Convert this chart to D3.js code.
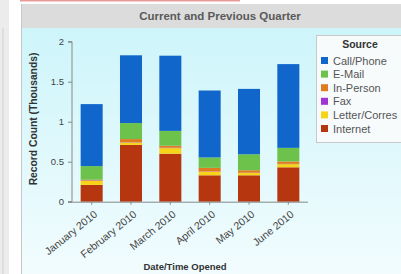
<!DOCTYPE html>
<html>
<head>
<meta charset="utf-8">
<script src="https://cdn.jsdelivr.net/npm/d3@7"></script>
<style>
  body { margin: 0; background: #fff; }
  svg { display: block; font-family: "Liberation Sans", Arial, sans-serif; }
</style>
</head>
<body>
<script>
// Data (thousands of records)
let months = ["January 2010", "February 2010", "March 2010", "April 2010", "May 2010", "June 2010"];
let sources = ["Internet", "Letter/Corres", "Fax", "In-Person", "E-Mail", "Call/Phone"];
let internet = [0.21, 0.71, 0.6, 0.33, 0.33, 0.43];
let letter = [0.05, 0.03, 0.07, 0.045, 0.03, 0.04];
let fax = [0.005, 0.003, 0.005, 0.003, 0.003, 0.003];
let inPerson = [0.01, 0.04, 0.025, 0.045, 0.03, 0.03];
let email = [0.17, 0.2, 0.185, 0.13, 0.2, 0.17];
let callPhone = [0.775, 0.847, 0.94, 0.837, 0.817, 1.047];
let yTicks = [0, 0.5, 1, 1.5, 2];

let colors = {
  "Call/Phone": "#1166cc",
  "E-Mail": "#6cc24a",
  "In-Person": "#e07b1f",
  "Fax": "#a035d6",
  "Letter/Corres": "#f7d417",
  "Internet": "#b5360f"
};

let rows = months.map((m, i) => ({
  month: m,
  "Internet": internet[i],
  "Letter/Corres": letter[i],
  "Fax": fax[i],
  "In-Person": inPerson[i],
  "E-Mail": email[i],
  "Call/Phone": callPhone[i]
}));

let W = 401, H = 274;
let svg = d3.select("body").append("svg").attr("width", W).attr("height", H);

let defs = svg.append("defs");
let grad = defs.append("linearGradient").attr("id", "bg").attr("x1", 0).attr("y1", 0).attr("x2", 0).attr("y2", 1);
grad.append("stop").attr("offset", "0%").attr("stop-color", "#cdf5fa");
grad.append("stop").attr("offset", "100%").attr("stop-color", "#f2fcfe");

// neighbouring pane on the left
svg.append("rect").attr("x", 0).attr("y", 0).attr("width", 9).attr("height", H).style("fill", "#ececec");
svg.append("line").attr("x1", 3).attr("x2", 3).attr("y1", 28).attr("y2", H).style("stroke", "#d0d0d0");

// top red strip
svg.append("line").attr("x1", 20).attr("x2", 240).attr("y1", 0.5).attr("y2", 0.5)
  .style("stroke", "#e79a9a").style("stroke-width", 2);

// panel
svg.append("rect").attr("x", 21).attr("y", 28).attr("width", W - 21).attr("height", H - 28).style("fill", "url(#bg)");
svg.append("rect").attr("x", 21).attr("y", 4).attr("width", W - 21).attr("height", 24).style("fill", "#dcdcdc");
svg.append("line").attr("x1", 21.5).attr("x2", 21.5).attr("y1", 4).attr("y2", H).style("stroke", "#c8c8c8");

svg.append("text")
  .attr("x", 220).attr("y", 20)
  .attr("text-anchor", "middle")
  .style("font-size", "11.5px").style("font-weight", "bold").style("fill", "#5a5a5a")
  .text("Current and Previous Quarter");

// scales
let x = d3.scaleBand().domain(months).range([72, 308]).paddingInner(0.44).paddingOuter(0.22);
let y = d3.scaleLinear().domain([0, 2]).range([201.7, 41.7]);

let stacked = d3.stack().keys(sources)(rows);

svg.append("g")
  .selectAll("g")
  .data(stacked)
  .join("g")
  .style("fill", d => colors[d.key])
  .selectAll("rect")
  .data(d => d)
  .join("rect")
  .attr("x", d => x(d.data.month))
  .attr("width", x.bandwidth())
  .attr("y", d => y(d[1]))
  .attr("height", d => y(d[0]) - y(d[1]));

// axes
let yAxis = svg.append("g")
  .attr("transform", "translate(72,0)")
  .call(d3.axisLeft(y).tickValues(yTicks).tickSize(4).tickPadding(4).tickFormat(d3.format("~g")));
yAxis.select(".domain").attr("d", "M-4," + y(2) + "H0V" + y(0) + "H-4");
yAxis.selectAll("path, line").style("stroke", "#888");
yAxis.selectAll("text").style("font-size", "9.5px").style("fill", "#444").style("font-family", "Liberation Sans, Arial, sans-serif");

let xAxis = svg.append("g")
  .attr("transform", "translate(0," + y(0) + ")")
  .call(d3.axisBottom(x).tickSize(3).tickSizeOuter(0));
xAxis.select(".domain").attr("d", "M68,0.5H308");
xAxis.selectAll("path, line").style("stroke", "#888");
xAxis.selectAll("text")
  .style("font-size", "10.5px").style("fill", "#444")
  .style("font-family", "Liberation Sans, Arial, sans-serif")
  .attr("text-anchor", "end")
  .attr("y", 0)
  .attr("dy", "0.35em")
  .attr("transform", "translate(4,11) rotate(-39)");

// axis titles
svg.append("text")
  .attr("transform", "translate(37,119) rotate(-90)")
  .attr("text-anchor", "middle")
  .style("font-size", "10.3px").style("font-weight", "bold").style("fill", "#333")
  .text("Record Count (Thousands)");

svg.append("text")
  .attr("x", 185).attr("y", 270)
  .attr("text-anchor", "middle")
  .style("font-size", "9.5px").style("font-weight", "bold").style("fill", "#333")
  .text("Date/Time Opened");

// legend
let legend = svg.append("g");
legend.append("rect")
  .attr("x", 316.5).attr("y", 35.5).attr("width", 95).attr("height", 107)
  .style("fill", "#f7fbfc").style("stroke", "#c8c8c8");
legend.append("text")
  .attr("x", 360).attr("y", 48)
  .attr("text-anchor", "middle")
  .style("font-size", "10.5px").style("font-weight", "bold").style("fill", "#333")
  .text("Source");

let items = legend.selectAll("g.item")
  .data(sources.slice().reverse())
  .join("g")
  .attr("class", "item")
  .attr("transform", (d, i) => "translate(321," + (57 + i * 13.6) + ")");
items.append("rect").attr("width", 7).attr("height", 7).style("fill", d => colors[d]);
items.append("text")
  .attr("x", 12).attr("y", 7.5)
  .style("font-size", "11px").style("fill", "#555")
  .text(d => d);
</script>
</body>
</html>
